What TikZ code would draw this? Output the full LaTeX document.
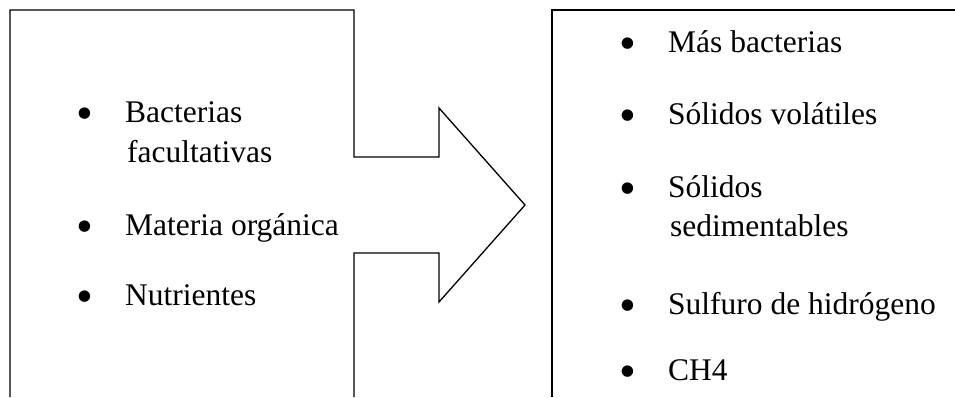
\documentclass[tikz,border=0pt]{standalone}
\usepackage{fontspec}
\setmainfont{Liberation Serif}
\begin{document}
\begin{tikzpicture}[x=1pt,y=-1pt,
  outline/.style={draw=black, line width=1.3pt, line join=miter},
  txt/.style={anchor=base west, inner sep=0pt, font=\fontsize{31.5}{36}\selectfont},
  bul/.style={anchor=base, inner sep=0pt, font=\fontsize{48}{52}\selectfont}]
\useasboundingbox (0,0) rectangle (955,397);
% left box merged with the arrow
\draw[outline] (10,397) -- (10,10) -- (354,10) -- (354,157) -- (439,157) -- (439,108)
  -- (525,205) -- (439,302) -- (439,253) -- (354,253) -- (354,397);
% right box
\draw[outline] (955,10) -- (552,10) -- (552,397);
% left items
\node[bul] (lb1) at (85,129.5) {•};
\node[txt] (l1) at (125,122) {Bacterias};
\node[txt] (l1b) at (127,162) {facultativas};
\node[bul] (lb2) at (85,242.5) {•};
\node[txt] (l2) at (125,235) {Materia orgánica};
\node[bul] (lb3) at (85,312.5) {•};
\node[txt] (l3) at (125,305) {Nutrientes};
% right items
\node[bul] (rb1) at (628,59.5) {•};
\node[txt] (r1) at (668,52) {Más bacterias};
\node[bul] (rb2) at (628,131.5) {•};
\node[txt] (r2) at (668,124) {Sólidos volátiles};
\node[bul] (rb3) at (628,204.5) {•};
\node[txt] (r3) at (668,197) {Sólidos};
\node[txt] (r3b) at (670,236) {sedimentables};
\node[bul] (rb4) at (628,321.5) {•};
\node[txt] (r4) at (668,314) {Sulfuro de hidrógeno};
\node[bul] (rb5) at (628,387.5) {•};
\node[txt] (r5) at (668,380) {CH4};
\end{tikzpicture}
\end{document}
